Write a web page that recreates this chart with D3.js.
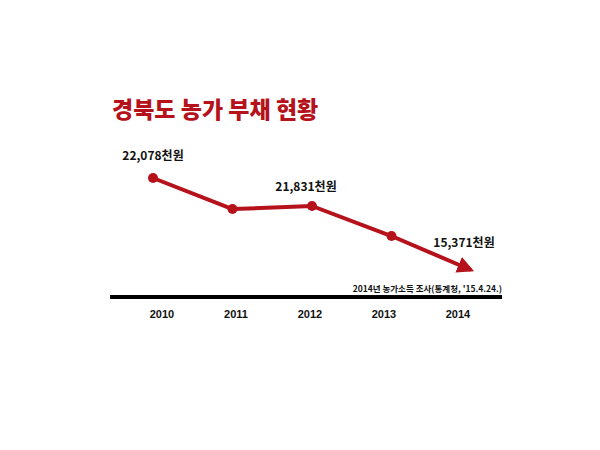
<!DOCTYPE html>
<html><head><meta charset="utf-8">
<script src="https://cdn.jsdelivr.net/npm/d3@7"></script>
<style>body{margin:0;background:#fff}</style></head>
<body><svg id="c" width="600" height="450"></svg>
<script>
const years = ["2010","2011","2012","2013","2014"];
const debt = [22078, 21520, 21831, 18800, 15371];
const labels = ["22,078천원", null, "21,831천원", null, "15,371천원"];
const title = "경북도 농가 부채 현황";
const source = "2014년 농가소득 조사(통계청, '15.4.24.)";

const svg = d3.select("#c");
const red = "#b5121b";
const x = d3.scalePoint().domain(years).range([153, 471]);
const xl = d3.scalePoint().domain(years).range([162, 458]);
const y = d3.scaleLinear().domain([15371, 21831, 22078]).range([270, 206, 178]);

svg.append("text").attr("x",112).attr("y",118).attr("fill",red)
  .attr("font-family","'Noto Sans CJK KR'").attr("font-weight","900").attr("font-size",23)
  .text(title);

svg.append("defs").append("marker").attr("id","ar").attr("viewBox","0 0 10 10")
  .attr("refX",8).attr("refY",5).attr("markerWidth",4.2).attr("markerHeight",4.2)
  .attr("orient","auto").attr("markerUnits","strokeWidth")
  .append("path").attr("d","M0,0L10,5L0,10Z").attr("fill",red);

const pts = years.map((yr,i)=>[x(yr), y(debt[i])]);
svg.append("path").attr("d", d3.line()(pts.slice(0,4))).attr("fill","none")
  .attr("stroke",red).attr("stroke-width",4).attr("stroke-linejoin","round");
svg.append("line").attr("x1",pts[3][0]).attr("y1",pts[3][1])
  .attr("x2",pts[4][0]).attr("y2",pts[4][1])
  .attr("stroke",red).attr("stroke-width",4).attr("marker-end","url(#ar)");
svg.selectAll("circle").data(pts.slice(0,4)).join("circle")
  .attr("cx",d=>d[0]).attr("cy",d=>d[1]).attr("r",5).attr("fill",red);

const lblPos = [[153,160],null,[304,191],null,[464,247]];
labels.forEach((l,i)=>{ if(!l) return;
  svg.append("text").attr("x",x(years[i]) + [0,0,-6,0,-7][i]).attr("y",y(debt[i]) - [18,0,15,0,23][i])
   .attr("text-anchor","middle").attr("font-family","'Noto Sans CJK KR'").attr("font-weight","bold")
   .attr("font-size",12).attr("fill","#111").text(l);
});

svg.append("line").attr("x1",110).attr("x2",502).attr("y1",297).attr("y2",297)
  .attr("stroke","#000").attr("stroke-width",4);
svg.append("text").attr("x",502).attr("y",292).attr("text-anchor","end")
  .attr("font-family","'Noto Sans CJK KR'").attr("font-weight","bold").attr("font-size",8.5)
  .attr("fill","#111").text(source);
svg.selectAll("text.yr").data(years).join("text").attr("class","yr")
  .attr("x",d=>xl(d)).attr("y",318).attr("text-anchor","middle")
  .attr("font-family","Arial, 'Liberation Sans'").attr("font-weight","bold").attr("font-size",11)
  .attr("fill","#111").text(d=>d);
</script></body></html>
